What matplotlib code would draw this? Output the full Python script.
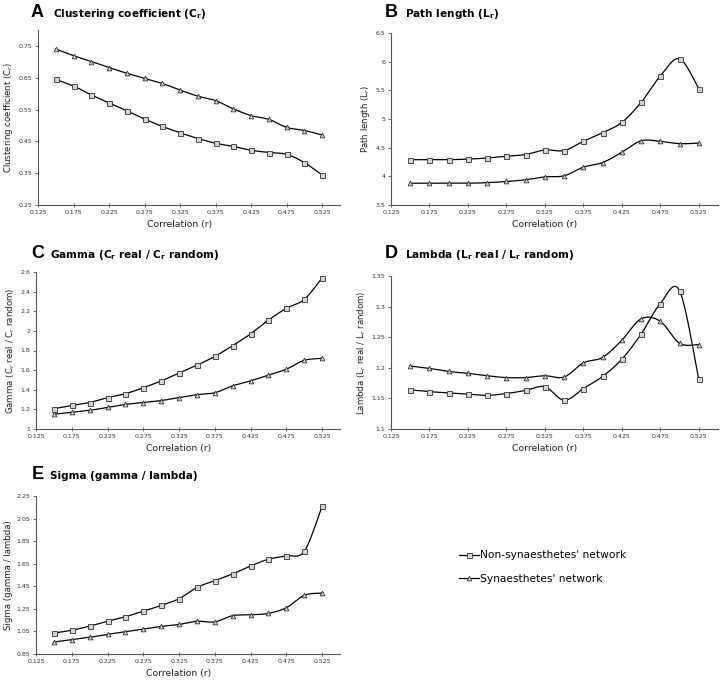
import numpy as np
import matplotlib
matplotlib.use("Agg")
import matplotlib.pyplot as plt
from matplotlib.lines import Line2D

plt.rcParams['font.family'] = ['DejaVu Sans']
plt.rcParams['mathtext.fontset'] = 'dejavusans'

corr = [0.15, 0.175, 0.2, 0.225, 0.25, 0.275, 0.3, 0.325, 0.35, 0.375,
        0.4, 0.425, 0.45, 0.475, 0.5, 0.525]

clust_non = [0.645, 0.624, 0.596, 0.571, 0.546, 0.520, 0.497, 0.477, 0.459, 0.444,
             0.434, 0.422, 0.415, 0.409, 0.383, 0.344]
clust_syn = [0.740, 0.719, 0.701, 0.682, 0.664, 0.648, 0.632, 0.611, 0.592, 0.578,
             0.552, 0.531, 0.519, 0.494, 0.484, 0.470]

path_non = [4.29, 4.29, 4.29, 4.30, 4.32, 4.35, 4.38, 4.46, 4.45, 4.61,
            4.76, 4.94, 5.29, 5.75, 6.05, 5.53]
path_syn = [3.88, 3.88, 3.88, 3.88, 3.89, 3.91, 3.94, 3.99, 4.01, 4.16,
            4.24, 4.42, 4.62, 4.61, 4.57, 4.58]

gamma_non = [1.207, 1.24, 1.27, 1.32, 1.36, 1.42, 1.49, 1.57, 1.65, 1.74,
             1.85, 1.97, 2.11, 2.23, 2.32, 2.54]
gamma_syn = [1.15, 1.17, 1.19, 1.22, 1.25, 1.27, 1.29, 1.32, 1.35, 1.37,
             1.44, 1.49, 1.55, 1.61, 1.70, 1.72]

lambda_non = [1.164, 1.161, 1.159, 1.157, 1.155, 1.158, 1.163, 1.169, 1.147, 1.166,
              1.186, 1.214, 1.255, 1.305, 1.326, 1.181]
lambda_syn = [1.203, 1.199, 1.194, 1.191, 1.187, 1.184, 1.184, 1.187, 1.185, 1.208,
              1.217, 1.245, 1.280, 1.276, 1.240, 1.238]

sigma_non = [1.035, 1.06, 1.097, 1.14, 1.18, 1.23, 1.28, 1.34, 1.44, 1.50,
             1.56, 1.63, 1.69, 1.72, 1.76, 2.16]
sigma_syn = [0.956, 0.977, 0.998, 1.024, 1.047, 1.071, 1.094, 1.112, 1.14, 1.135,
             1.19, 1.197, 1.21, 1.26, 1.37, 1.39]

xticks = [0.125, 0.175, 0.225, 0.275, 0.325, 0.375, 0.425, 0.475, 0.525]
xticklabels = ['0.125', '0.175', '0.225', '0.275', '0.325', '0.375', '0.425', '0.475', '0.525']

legend_labels = ["Non-synaesthetes' network", "Synaesthetes' network"]


def smooth(x, y, n=24):
    P = np.column_stack([x, y]).astype(float)
    P = np.vstack([P[0], P, P[-1]])
    out = []
    t = np.linspace(0, 1, n, endpoint=False)[:, None]
    for i in range(1, len(P) - 2):
        p0, p1, p2, p3 = P[i - 1], P[i], P[i + 1], P[i + 2]
        c = 0.5 * ((2 * p1) + (-p0 + p2) * t + (2 * p0 - 5 * p1 + 4 * p2 - p3) * t ** 2
                   + (-p0 + 3 * p1 - 3 * p2 + p3) * t ** 3)
        out.append(c)
    out.append(P[-2][None])
    c = np.vstack(out)
    return c[:, 0], c[:, 1]


W, H = 720, 683
fig = plt.figure(figsize=(W / 100, H / 100), dpi=100)

def px_axes(l, t, r, b):
    return fig.add_axes([l / W, 1 - b / H, (r - l) / W, (b - t) / H])

AX_COL = '#555555'
MFC = '#d4d4d4'
MEC = '#333333'


def panel(ax, ynon, ysyn, ylim, yticks, yticklabels, ylabel, show_xlabel=True):
    for yy, mk in ((ynon, 's'), (ysyn, '^')):
        sx, sy = smooth(corr, yy)
        ax.plot(sx, sy, color='black', lw=0.9, zorder=2)
        ax.plot(corr, yy, linestyle='none', marker=mk, ms=3.6 if mk == 's' else 3.4,
                mfc=MFC, mec=MEC, mew=0.6, zorder=3)
    ax.set_xlim(0.125, 0.55)
    ax.set_ylim(*ylim)
    ax.set_xticks(xticks)
    ax.set_xticklabels(xticklabels)
    ax.set_yticks(yticks)
    ax.set_yticklabels(yticklabels)
    for s in ('top', 'right'):
        ax.spines[s].set_visible(False)
    for s in ('left', 'bottom'):
        ax.spines[s].set_color(AX_COL)
        ax.spines[s].set_linewidth(0.8)
    ax.tick_params(axis='both', labelsize=4.5, colors=AX_COL, labelcolor='#333333',
                   length=2, width=0.6, pad=2)
    ax.tick_params(axis='x', direction='inout', length=3)
    ax.set_ylabel(ylabel, fontsize=6.2, color='#222222', labelpad=2.5)
    if show_xlabel:
        ax.set_xlabel('Correlation (r)', fontsize=6.7, color='#222222', labelpad=3)
        ax.xaxis.set_label_coords(0.47, -0.085 * 175 / (ax.get_position().height * H))


axA = px_axes(38, 30, 340, 205)
panel(axA, clust_non, clust_syn, (0.25, 0.80),
      [0.25, 0.35, 0.45, 0.55, 0.65, 0.75], ['0.25', '0.35', '0.45', '0.55', '0.65', '0.75'],
      r'Clustering coefficient (C$_r$)')

axB = px_axes(391, 33, 718, 205)
panel(axB, path_non, path_syn, (3.5, 6.5),
      [3.5, 4, 4.5, 5, 5.5, 6, 6.5], ['3.5', '4', '4.5', '5', '5.5', '6', '6.5'],
      r'Path length (L$_r$)')

axC = px_axes(36, 272, 340, 429)
panel(axC, gamma_non, gamma_syn, (1.0, 2.6),
      [1, 1.2, 1.4, 1.6, 1.8, 2, 2.2, 2.4, 2.6], ['1', '1.2', '1.4', '1.6', '1.8', '2', '2.2', '2.4', '2.6'],
      r'Gamma (C$_r$ real / C$_r$ random)')

axD = px_axes(391, 276, 718, 429)
panel(axD, lambda_non, lambda_syn, (1.1, 1.35),
      [1.1, 1.15, 1.2, 1.25, 1.3, 1.35], ['1.1', '1.15', '1.2', '1.25', '1.3', '1.35'],
      r'Lambda (L$_r$ real / L$_r$ random)')

axE = px_axes(36, 496, 340, 654)
panel(axE, sigma_non, sigma_syn, (0.85, 2.25),
      [0.85, 1.05, 1.25, 1.45, 1.65, 1.85, 2.05, 2.25],
      ['0.85', '1.05', '1.25', '1.45', '1.65', '1.85', '2.05', '2.25'],
      'Sigma (gamma / lambda)')

titles = [
    ('A', r'Clustering coefficient (C$_\mathbf{r}$)', 31, 53, 17),
    ('B', r'Path length (L$_\mathbf{r}$)', 385, 405, 17),
    ('C', r'Gamma (C$_\mathbf{r}$ real / C$_\mathbf{r}$ random)', 31, 50, 258),
    ('D', r'Lambda (L$_\mathbf{r}$ real / L$_\mathbf{r}$ random)', 385, 405, 258),
    ('E', 'Sigma (gamma / lambda)', 32, 50, 479),
]
for letter, text, lx, tx, by in titles:
    fig.text(lx / W, 1 - by / H, letter, fontsize=13, fontweight='bold',
             family='Liberation Sans', va='baseline', ha='left')
    fig.text(tx / W, 1 - by / H, text, fontsize=7.6, fontweight='bold',
             va='baseline', ha='left')

handles = [
    Line2D([], [], color='black', lw=0.9, marker='s', ms=3.6, mfc=MFC, mec=MEC, mew=0.6),
    Line2D([], [], color='black', lw=0.9, marker='^', ms=3.4, mfc=MFC, mec=MEC, mew=0.6),
]
fig.legend(handles, legend_labels, loc='upper left', bbox_to_anchor=(455 / W, 1 - 546 / H),
           frameon=False, fontsize=7.7, handlelength=1.85, handletextpad=0.1,
           labelspacing=1.25, borderaxespad=0)

fig.savefig('out.png', dpi=100, facecolor='white')
